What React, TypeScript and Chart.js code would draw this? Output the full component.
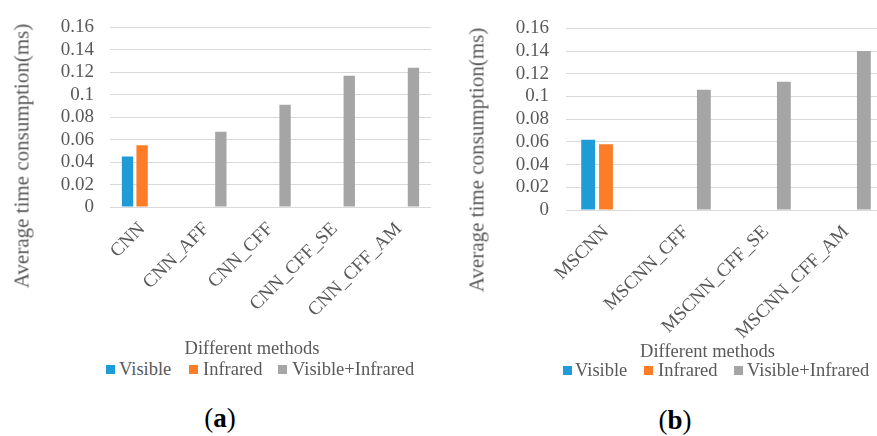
import React, { useEffect, useRef } from "react";
import { Chart, registerables } from "chart.js";

Chart.register(...registerables);

// ---- data ----
const categoriesA = ["CNN", "CNN_AFF", "CNN_CFF", "CNN_CFF_SE", "CNN_CFF_AM"];
const visibleA = [0.045, null, null, null, null];
const infraredA = [0.055, null, null, null, null];
const fusionA = [null, 0.067, 0.091, 0.117, 0.124];

const categoriesB = ["MSCNN", "MSCNN_CFF", "MSCNN_CFF_SE", "MSCNN_CFF_AM"];
const visibleB = [0.062, null, null, null];
const infraredB = [0.058, null, null, null];
const fusionB = [null, 0.106, 0.113, 0.14];

const seriesNames = ["Visible", "Infrared", "Visible+Infrared"];
const seriesColors = ["#1f9bd7", "#fd7c28", "#a5a5a5"];

const yMin = 0;
const yMax = 0.16;
const yStep = 0.02;

const yTitle = "Average time consumption(ms)";
const xTitle = "Different methods";

const SERIF = "'Liberation Serif', Tinos, 'Times New Roman', 'DejaVu Serif', serif";
const TEXT = "#595959";

type PanelCfg = {
  labels: string[];
  series: (number | null)[][];
  width: number;
  height: number;
  padTop: number;
  padRight: number;
  yWidth: number;
  xHeight: number;
  catPct: number;
  barPct: number;
  tickPad: number;
};

function BarPanel({ cfg }: { cfg: PanelCfg }) {
  const ref = useRef<HTMLCanvasElement | null>(null);
  useEffect(() => {
    if (!ref.current) return;
    const chart = new Chart(ref.current, {
      type: "bar",
      data: {
        labels: cfg.labels,
        datasets: cfg.series.map((d, i) => ({
          label: seriesNames[i],
          data: d,
          backgroundColor: seriesColors[i],
          borderWidth: 0,
          categoryPercentage: cfg.catPct,
          barPercentage: cfg.barPct,
        })),
      },
      options: {
        responsive: false,
        animation: false,
        devicePixelRatio: 1,
        layout: {
          padding: { left: 0, top: cfg.padTop, right: cfg.padRight, bottom: 0 },
        },
        plugins: {
          legend: { display: false },
          tooltip: { enabled: false },
          title: { display: false },
        },
        scales: {
          x: {
            grid: { display: false },
            border: { display: false },
            ticks: {
              autoSkip: false,
              minRotation: 45,
              maxRotation: 45,
              color: TEXT,
              padding: 3,
              font: { family: SERIF, size: 19 },
            },
            afterFit: (s: any) => {
              s.height = cfg.xHeight;
            },
          },
          y: {
            min: yMin,
            max: yMax,
            grid: { color: "#d9d9d9", lineWidth: 1, drawTicks: false },
            border: { display: false },
            ticks: {
              stepSize: yStep,
              autoSkip: false,
              color: TEXT,
              padding: cfg.tickPad,
              font: { family: SERIF, size: 19 },
              callback: (v: any) => String(Number(Number(v).toFixed(2))),
            },
            afterFit: (s: any) => {
              s.width = cfg.yWidth;
            },
          },
        },
      },
    });
    return () => chart.destroy();
  }, [cfg]);
  return (
    <canvas
      ref={ref}
      width={cfg.width}
      height={cfg.height}
      style={{ width: cfg.width, height: cfg.height, display: "block" }}
    />
  );
}

const cfgA: PanelCfg = {
  labels: categoriesA,
  series: [visibleA, infraredA, fusionA],
  width: 440,
  height: 340,
  padTop: 19,
  padRight: 9,
  yWidth: 110,
  xHeight: 133,
  catPct: 0.68,
  barPct: 0.78,
  tickPad: 16,
};

const cfgB: PanelCfg = {
  labels: categoriesB,
  series: [visibleB, infraredB, fusionB],
  width: 446,
  height: 340,
  padTop: 23,
  padRight: 0,
  yWidth: 126,
  xHeight: 130,
  catPct: 0.67,
  barPct: 0.775,
  tickPad: 17,
};

const centered = (x: number, y: number, extra: React.CSSProperties = {}): React.CSSProperties => ({
  position: "absolute",
  left: x,
  top: y,
  transform: "translate(-50%, -50%)",
  whiteSpace: "nowrap",
  lineHeight: 1,
  ...extra,
});

function Legend({ y, squares, texts }: { y: number; squares: number[]; texts: number[] }) {
  return (
    <>
      {seriesNames.map((name, i) => (
        <React.Fragment key={name}>
          <div
            style={{
              position: "absolute",
              left: squares[i],
              top: y - 4.5,
              width: 9,
              height: 9,
              background: seriesColors[i],
            }}
          />
          <div
            style={{
              position: "absolute",
              left: texts[i],
              top: y,
              transform: "translateY(-50%)",
              whiteSpace: "nowrap",
              lineHeight: 1,
              fontSize: 18.5,
              color: TEXT,
            }}
          >
            {name}
          </div>
        </React.Fragment>
      ))}
    </>
  );
}

export default function App() {
  return (
    <div
      style={{
        position: "fixed",
        left: 0,
        top: 0,
        width: 877,
        height: 436,
        overflow: "hidden",
        background: "#ffffff",
        fontFamily: SERIF,
      }}
    >
      <div style={{ position: "absolute", left: 0, top: 0 }}>
        <BarPanel cfg={cfgA} />
      </div>
      <div style={{ position: "absolute", left: 440, top: 0 }}>
        <BarPanel cfg={cfgB} />
      </div>

      <div style={centered(22, 156, { transform: "translate(-50%, -50%) rotate(-90deg)", fontSize: 21, color: TEXT })}>
        {yTitle}
      </div>
      <div style={centered(477, 160, { transform: "translate(-50%, -50%) rotate(-90deg)", fontSize: 21, color: TEXT })}>
        {yTitle}
      </div>

      <div style={centered(252, 348, { fontSize: 18.5, color: TEXT })}>{xTitle}</div>
      <div style={centered(707.5, 351, { fontSize: 18.5, color: TEXT })}>{xTitle}</div>

      <Legend y={369} squares={[106, 189, 278]} texts={[119, 203, 292]} />
      <Legend y={370} squares={[563, 644, 734]} texts={[575, 658, 747]} />

      <div style={centered(220, 418, { fontSize: 27, color: "#000" })}>
        (<b>a</b>)
      </div>
      <div style={centered(675, 420, { fontSize: 27, color: "#000" })}>
        (<b>b</b>)
      </div>
    </div>
  );
}
